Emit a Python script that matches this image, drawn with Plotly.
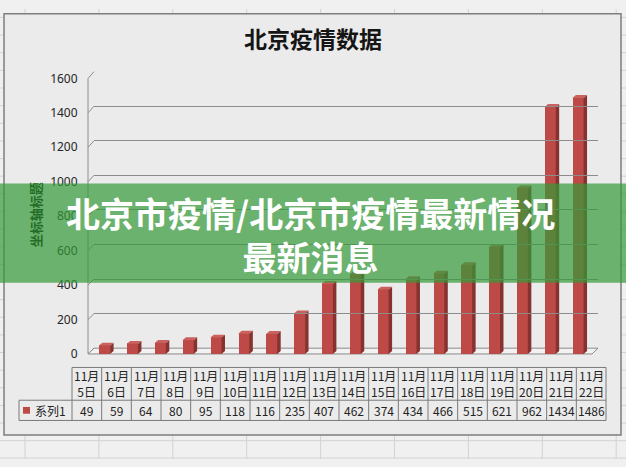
import plotly.graph_objects as go

W, H = 626, 467

# ---- data ----
days = ["5日", "6日", "7日", "8日", "9日", "10日", "11日", "12日", "13日",
        "14日", "15日", "16日", "17日", "18日", "19日", "20日", "21日", "22日"]
month = "11月"
values = [49, 59, 64, 80, 95, 118, 116, 235, 407, 462, 374, 434, 466, 515, 621, 962, 1434, 1486]
series_name = "系列1"
y_ticks = [0, 200, 400, 600, 800, 1000, 1200, 1400, 1600]
title = "北京疫情数据"
y_title = "坐标轴标题"
banner_lines = ["北京市疫情/北京市疫情最新情况", "最新消息"]

def px(x):
    return x / W

def py(y):
    return 1 - y / H

# geometry (pixels)
FRONT_Y0, FRONT_Y1 = 358, 72      # front plane: value 0 / 1600
BACK_Y0, BACK_Y1 = 352, 65        # back wall
AX_LEFT = 88
BACK_LEFT, BACK_RIGHT = 94, 598
CAT_LEFT, CAT_RIGHT = 90.6, 591.9
YMAX = 1600
n = len(values)
band_px = (CAT_RIGHT - CAT_LEFT) / n
k_front = (FRONT_Y0 - FRONT_Y1) / YMAX

bar_w = 0.40
dx = 3.5 / band_px          # depth offset in category units
dy = 3.0 / k_front          # depth offset in value units

x_idx = list(range(n))

fig = go.Figure()

# front faces
fig.add_trace(go.Bar(x=x_idx, y=values, width=bar_w, marker=dict(color="#BD4A47", line=dict(width=0)),
                     showlegend=False, hoverinfo="skip"))

# side faces and top faces computed from values
sx, sy, tx, ty = [], [], [], []
for i, v in zip(x_idx, values):
    xl, xr = i - bar_w / 2, i + bar_w / 2
    sx += [xr, xr, xr + dx, xr + dx, xr, None]
    sy += [0, v, v + dy, dy, 0, None]
    tx += [xl, xr, xr + dx, xl + dx, xl, None]
    ty += [v, v, v + dy, v + dy, v, None]
fig.add_trace(go.Scatter(x=sx, y=sy, fill="toself", fillcolor="#853230", mode="lines",
                         line=dict(width=0, color="#853230"), showlegend=False, hoverinfo="skip"))
fig.add_trace(go.Scatter(x=tx, y=ty, fill="toself", fillcolor="#C9625E", mode="lines",
                         line=dict(width=0, color="#C9625E"), showlegend=False, hoverinfo="skip"))

# empty trace for back wall axes
fig.add_trace(go.Scatter(x=[], y=[], xaxis="x2", yaxis="y2", showlegend=False))

shapes = []
# spreadsheet grid behind
grid_col = "#D2D2D2"
xg = 25.0
while xg < W:
    shapes.append(dict(type="line", xref="paper", yref="paper", x0=px(xg), x1=px(xg), y0=0, y1=1,
                       line=dict(color=grid_col, width=1), layer="below"))
    xg += 73.9
yg = 448.0
while yg > 0:
    shapes.append(dict(type="line", xref="paper", yref="paper", x0=0, x1=1, y0=py(yg), y1=py(yg),
                       line=dict(color=grid_col, width=1), layer="below"))
    yg -= 18.3
shapes.append(dict(type="line", xref="paper", yref="paper", x0=0, x1=1, y0=py(466), y1=py(466),
                   line=dict(color=grid_col, width=1), layer="below"))
# chart area
shapes.append(dict(type="rect", xref="paper", yref="paper", x0=px(4), x1=px(621), y0=py(442), y1=py(5),
                   fillcolor="#EBEBEB", line=dict(color="#7E7E7E", width=1.5), layer="below"))
# floor
floor_path = "M {} {} L {} {} L {} {} L {} {} Z".format(
    px(AX_LEFT), py(FRONT_Y0), px(BACK_LEFT), py(BACK_Y0), px(BACK_RIGHT), py(BACK_Y0),
    px(BACK_RIGHT - 6), py(FRONT_Y0))
shapes.append(dict(type="path", xref="paper", yref="paper", path=floor_path, fillcolor="#F2F2F2",
                   line=dict(color="#8C8C8C", width=1), layer="below"))
# left side wall diagonals
for t in y_ticks:
    yf = FRONT_Y0 - t * k_front
    yb = BACK_Y0 - t * (BACK_Y0 - BACK_Y1) / YMAX
    shapes.append(dict(type="line", xref="paper", yref="paper", x0=px(AX_LEFT), x1=px(BACK_LEFT),
                       y0=py(yf), y1=py(yb), line=dict(color="#8C8C8C", width=1), layer="below"))
shapes.append(dict(type="line", xref="paper", yref="paper", x0=px(AX_LEFT), x1=px(AX_LEFT),
                   y0=py(FRONT_Y0), y1=py(FRONT_Y1), line=dict(color="#8C8C8C", width=1), layer="below"))

# data table
T_LEFT, T_RIGHT = 72, 606
L_LEFT = 19
R0, R1, R2 = 372, 406, 427
col_w = (T_RIGHT - T_LEFT) / n
tcol = "#7A7A7A"
shapes.append(dict(type="line", xref="paper", yref="paper", x0=px(T_LEFT), x1=px(T_RIGHT),
                   y0=py(R0), y1=py(R0), line=dict(color=tcol, width=1)))
for yy in (R1, R2):
    shapes.append(dict(type="line", xref="paper", yref="paper", x0=px(L_LEFT), x1=px(T_RIGHT),
                       y0=py(yy), y1=py(yy), line=dict(color=tcol, width=1)))
for i in range(n + 1):
    xx = T_LEFT + col_w * i
    shapes.append(dict(type="line", xref="paper", yref="paper", x0=px(xx), x1=px(xx),
                       y0=py(R0), y1=py(R2), line=dict(color=tcol, width=1)))
shapes.append(dict(type="line", xref="paper", yref="paper", x0=px(L_LEFT), x1=px(L_LEFT),
                   y0=py(R1), y1=py(R2), line=dict(color=tcol, width=1)))
# legend key square
shapes.append(dict(type="rect", xref="paper", yref="paper", x0=px(23), x1=px(30),
                   y0=py(420), y1=py(413), fillcolor="#BD4A47", line=dict(width=0)))

# banner overlay
shapes.append(dict(type="rect", xref="paper", yref="paper", x0=0, x1=1, y0=py(284), y1=py(181),
                   fillcolor="rgba(51,154,56,0.70)", line=dict(width=0), layer="above"))

annotations = []
cjk = "Noto Sans CJK SC"
annotations.append(dict(text="<b>" + title + "</b>", x=px(313), y=py(30), xref="paper", yref="paper",
                        showarrow=False, font=dict(family=cjk, size=23, color="#151515"),
                        xanchor="center", yanchor="middle"))
annotations.append(dict(text="<b>" + y_title + "</b>", x=px(35), y=py(214), xref="paper", yref="paper",
                        showarrow=False, textangle=-90, font=dict(family=cjk, size=13, color="#246C27"),
                        xanchor="center", yanchor="middle"))
for i, (d, v) in enumerate(zip(days, values)):
    cx = T_LEFT + col_w * (i + 0.5)
    annotations.append(dict(text=month + "<br>" + d, x=px(cx), y=py(389), xref="paper", yref="paper",
                            showarrow=False, font=dict(family=cjk, size=12, color="#222222"),
                            xanchor="center", yanchor="middle"))
    annotations.append(dict(text=str(v), x=px(cx), y=py(417), xref="paper", yref="paper",
                            showarrow=False, font=dict(family=cjk, size=12, color="#222222"),
                            xanchor="center", yanchor="middle"))
annotations.append(dict(text=series_name, x=px(33), y=py(417), xref="paper", yref="paper", showarrow=False,
                        font=dict(family=cjk, size=12, color="#222222"), xanchor="left", yanchor="middle"))
annotations.append(dict(text="<b>" + banner_lines[0] + "<br>" + banner_lines[1] + "</b>",
                        x=px(310), y=py(234), xref="paper", yref="paper", showarrow=False,
                        font=dict(family=cjk, size=34, color="#FFFFFF"), xanchor="center", yanchor="middle"))

fig.update_layout(
    width=W, height=H,
    margin=dict(l=0, r=0, t=0, b=0),
    paper_bgcolor="#F0F0F0",
    plot_bgcolor="rgba(0,0,0,0)",
    showlegend=False,
    bargap=0,
    xaxis=dict(domain=[px(CAT_LEFT), px(CAT_RIGHT)], range=[-0.5, n - 0.5], visible=False,
               fixedrange=True, anchor="y"),
    yaxis=dict(domain=[py(FRONT_Y0), py(FRONT_Y1)], range=[0, YMAX], tickvals=y_ticks,
               showgrid=False, zeroline=False, showline=False, ticks="", ticklabelstandoff=12,
               tickfont=dict(family="Noto Sans", size=12, color="#262626"), anchor="x"),
    xaxis2=dict(domain=[px(BACK_LEFT), px(BACK_RIGHT)], range=[0, 1], visible=False, anchor="y2"),
    yaxis2=dict(domain=[py(BACK_Y0), py(BACK_Y1)], range=[0, YMAX], tickvals=y_ticks[1:],
                showgrid=True, gridcolor="#8C8C8C", gridwidth=1, zeroline=False, showline=False,
                showticklabels=False, anchor="x2"),
    shapes=shapes,
    annotations=annotations,
)

fig.write_html("out.html")
